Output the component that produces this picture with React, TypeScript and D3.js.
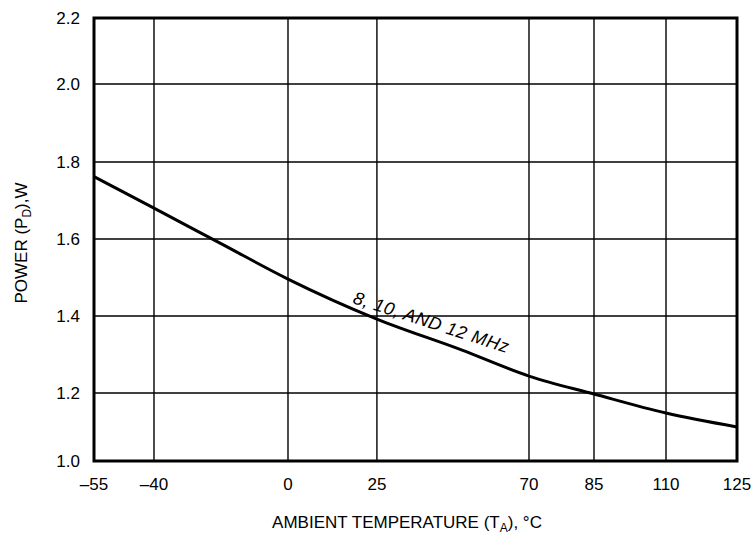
import React from 'react';
import * as d3 from 'd3';

// power dissipation vs ambient temperature
const temps = [-55, -40, -20, 0, 25, 50, 70, 85, 110, 125];
const power = [1.762, 1.68, 1.588, 1.496, 1.392, 1.312, 1.244, 1.197, 1.141, 1.1];

const xTicks = [-55, -40, 0, 25, 70, 85, 110, 125];
const yTicks = [1.0, 1.2, 1.4, 1.6, 1.8, 2.0, 2.2];

const curveLabel = '8, 10, AND 12 MHz';
const labelAt = [18, 1.434]; // temp, watts

// the printed grid is not evenly spaced, so the scales are piecewise
const xStops = [0, 0.0933, 0.3017, 0.44, 0.6765, 0.7776, 0.8896, 1];
const yStops = [0, 0.1535, 0.3273, 0.5011, 0.675, 0.851, 1];

const width = 753;
const height = 538;
const margin = {top: 18, right: 16, bottom: 77, left: 94};
const font = '"Liberation Sans", Arial, Helvetica, sans-serif';

function App() {
  const innerW = width - margin.left - margin.right;
  const innerH = height - margin.top - margin.bottom;

  const x = d3.scaleLinear().domain(xTicks).range(xStops.map(f => f * innerW));
  const y = d3.scaleLinear().domain(yTicks).range(yStops.map(f => innerH * (1 - f)));

  const line = d3.line<number>()
    .x((d, i) => x(temps[i]))
    .y(d => y(d))
    .curve(d3.curveMonotoneX);

  const fmt = (v: number) => (v < 0 ? '\u2013' + Math.abs(v) : String(v));

  return (
    <svg width={width} height={height} style={{position: 'absolute', left: 0, top: 0, background: '#fff'}}
      fontFamily={font}>
      <g transform={`translate(${margin.left},${margin.top})`}>
        {/* grid */}
        {xTicks.map(t => (
          <line key={'gx' + t} x1={x(t)} x2={x(t)} y1={0} y2={innerH} stroke="#000" strokeWidth={1.4} />
        ))}
        {yTicks.map(t => (
          <line key={'gy' + t} x1={0} x2={innerW} y1={y(t)} y2={y(t)} stroke="#000" strokeWidth={1.4} />
        ))}
        <rect x={0} y={0} width={innerW} height={innerH} fill="none" stroke="#000" strokeWidth={3} />

        <path d={line(power) || ''} fill="none" stroke="#000" strokeWidth={3} />

        <text x={x(labelAt[0])} y={y(labelAt[1])} fontSize={18} fontStyle="italic" letterSpacing={0.5}
          transform={`rotate(18,${x(labelAt[0])},${y(labelAt[1])})`}>
          {curveLabel}
        </text>

        {/* tick labels */}
        {yTicks.map(t => (
          <text key={'ty' + t} x={-14} y={y(t)} dy="0.35em" textAnchor="end" fontSize={17}>
            {t.toFixed(1)}
          </text>
        ))}
        {xTicks.map(t => (
          <text key={'tx' + t} x={x(t)} y={innerH + 29} textAnchor="middle" fontSize={17}>
            {fmt(t)}
          </text>
        ))}

        <text x={313} y={innerH + 67} textAnchor="middle" fontSize={17}>
          AMBIENT TEMPERATURE (T<tspan fontSize={12} dy={4}>A</tspan><tspan dy={-4}>), °C</tspan>
        </text>
      </g>
      <text transform="translate(27,243) rotate(-90)" textAnchor="middle" fontSize={17}>
        POWER (P<tspan fontSize={12} dy={4}>D</tspan><tspan dy={-4}>),W</tspan>
      </text>
    </svg>
  );
}

export default App;
